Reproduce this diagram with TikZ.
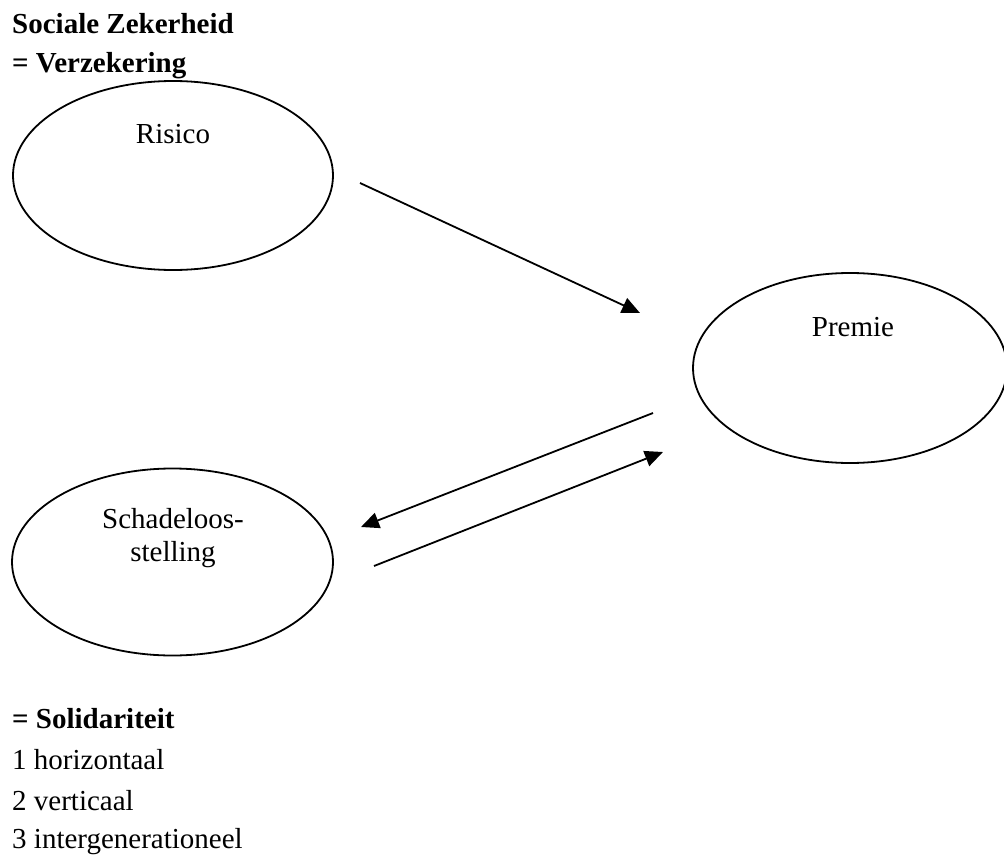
\documentclass[tikz,border=0pt]{standalone}
\usepackage{fontspec}
\setmainfont{Liberation Serif}
\usetikzlibrary{shapes.geometric,arrows.meta}
\begin{document}
\begin{tikzpicture}[x=1pt,y=-1pt,
  txt/.style={inner sep=0pt,font=\fontsize{29}{39}\selectfont},
  lefttxt/.style={txt,anchor=base west},
  midtxt/.style={txt,anchor=base},
  bubble/.style={draw,line width=1.8pt,ellipse,inner sep=0pt},
  conn/.style={line width=1.8pt,-{Triangle[length=18pt,width=16pt]}}]
\useasboundingbox (0,0) rectangle (1004,856);
% headings
\node[lefttxt,font=\fontsize{29}{39}\selectfont\bfseries] (t1) at (12,34) {Sociale Zekerheid};
\node[lefttxt,font=\fontsize{29}{39}\selectfont\bfseries] (t2) at (12,73) {= Verzekering};
% ellipses
\node[bubble,minimum width=320pt,minimum height=189pt] (risico) at (173,175.5) {};
\node[bubble,minimum width=314pt,minimum height=190pt] (premie) at (850,368) {};
\node[bubble,minimum width=321pt,minimum height=187pt] (schade) at (172.5,562) {};
% labels
\node[midtxt] (lr) at (173,144) {Risico};
\node[midtxt] (lp) at (853,336) {Premie};
\node[midtxt] (ls1) at (173,528) {Schadeloos-};
\node[midtxt] (ls2) at (173,561) {stelling};
% connector ends
\coordinate (a1) at (360,183);
\coordinate (a2) at (640,313);
\coordinate (b1) at (653,413);
\coordinate (b2) at (361,527);
\coordinate (c1) at (374,566);
\coordinate (c2) at (663,452);
\draw[conn] (a1) -- (a2);
\draw[conn] (b1) -- (b2);
\draw[conn] (c1) -- (c2);
% list
\node[lefttxt,font=\fontsize{29}{39}\selectfont\bfseries] (s0) at (12,728) {= Solidariteit};
\node[lefttxt] (s1) at (12,769) {1 horizontaal};
\node[lefttxt] (s2) at (12,810) {2 verticaal};
\node[lefttxt] (s3) at (12,848) {3 intergenerationeel};
\end{tikzpicture}
\end{document}
